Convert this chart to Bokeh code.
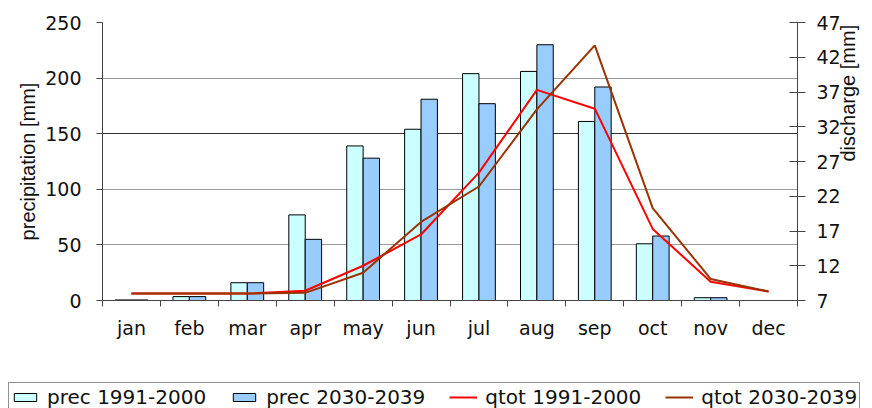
import math
import numpy as np
from bokeh.plotting import figure
from bokeh.layouts import column, row
from bokeh.models import (Range1d, LinearAxis, FixedTicker, Legend, LegendItem, Grid)
from bokeh.embed import file_html
from bokeh.resources import INLINE

months = ["jan", "feb", "mar", "apr", "may", "jun", "jul", "aug", "sep", "oct", "nov", "dec"]
prec_1991_2000 = [0.5, 3.5, 16, 77, 139, 154, 204, 206, 161, 51, 2.5, 0]
prec_2030_2039 = [0.5, 3.5, 16, 55, 128, 181, 177, 230, 192, 58, 2.5, 0]
qtot_1991_2000 = [8.0, 8.0, 8.0, 8.4, 12.0, 16.5, 25.4, 37.3, 34.6, 17.3, 9.7, 8.3]
qtot_2030_2039 = [8.0, 8.0, 8.0, 8.1, 11.0, 18.3, 23.4, 34.5, 43.7, 20.3, 10.1, 8.3]
left_ticks = [0, 50, 100, 150, 200, 250]
right_ticks = [7, 12, 17, 22, 27, 32, 37, 42, 47]
series_labels = ["prec 1991-2000", "prec 2030-2039", "qtot 1991-2000", "qtot 2030-2039"]

idx = np.arange(len(months))
centers = idx + 0.5
bw = 0.283

FONT = "DejaVu Sans"
AX = "#444444"
C_P1, C_P2, C_Q1, C_Q2 = "#CCFFFF", "#99CCFF", "#FF0000", "#993300"

p = figure(width=872, height=374, output_backend="svg", toolbar_location=None,
           x_range=Range1d(0, 12), y_range=Range1d(0, 250),
           min_border_left=102, min_border_right=70, min_border_top=22, min_border_bottom=74)
p.outline_line_color = None
p.background_fill_color = "white"
p.border_fill_color = "white"
p.extra_y_ranges = {"q": Range1d(7, 47)}

# grids
p.xgrid.visible = False
p.ygrid.ticker = FixedTicker(ticks=[t for t in left_ticks if t != 150])
p.ygrid.grid_line_color = "#9a9a9a"
p.ygrid.grid_line_width = 1
g2 = Grid(dimension=1, ticker=FixedTicker(ticks=[150]), grid_line_color="#303030", grid_line_width=1)
p.add_layout(g2, "center")


def draw(fig, yname):
    a = fig.vbar(x=centers - bw / 2, top=prec_1991_2000, width=bw, bottom=0,
                 fill_color=C_P1, line_color="black", line_width=1)
    b = fig.vbar(x=centers + bw / 2, top=prec_2030_2039, width=bw, bottom=0,
                 fill_color=C_P2, line_color="black", line_width=1)
    c = fig.line(x=centers, y=qtot_1991_2000, y_range_name=yname, line_color=C_Q1, line_width=2)
    d = fig.line(x=centers, y=qtot_2030_2039, y_range_name=yname, line_color=C_Q2, line_width=2)
    return [a, b, c, d]


draw(p, "q")

# x axis
xa = p.xaxis[0]
xa.ticker = FixedTicker(ticks=list(centers), minor_ticks=list(range(0, 13)))
xa.major_label_overrides = {float(c): m for c, m in zip(centers, months)}
xa.major_tick_out = 0
xa.major_tick_in = 0
xa.minor_tick_out = 6
xa.minor_tick_in = 0
xa.minor_tick_line_color = AX
xa.axis_line_color = AX
xa.major_label_text_font = FONT
xa.major_label_text_font_size = "19px"
xa.major_label_text_color = "#111111"
xa.major_label_standoff = 10

# left axis
ya = p.yaxis[0]
ya.ticker = FixedTicker(ticks=left_ticks)
ya.major_tick_out = 6
ya.major_tick_in = 0
ya.minor_tick_out = 0
ya.minor_tick_in = 0
ya.axis_line_color = AX
ya.major_tick_line_color = AX
ya.major_label_text_font = FONT
ya.major_label_text_font_size = "19px"
ya.major_label_text_color = "#111111"
ya.major_label_standoff = 15
ya.axis_label = "precipitation [mm]"
ya.axis_label_text_font = "Liberation Sans"
ya.axis_label_text_font_size = "20px"
ya.axis_label_text_font_style = "normal"
ya.axis_label_text_color = "#111111"
ya.axis_label_standoff = 3

# right axis
ra = LinearAxis(y_range_name="q", ticker=FixedTicker(ticks=right_ticks))
ra.major_tick_out = 8
ra.major_tick_in = 8
ra.minor_tick_out = 0
ra.minor_tick_in = 0
ra.axis_line_color = AX
ra.major_tick_line_color = AX
ra.major_label_text_font = FONT
ra.major_label_text_font_size = "19px"
ra.major_label_text_color = "#111111"
ra.major_label_standoff = 11
ra.axis_label = "discharge [mm]"
ra.axis_label_text_font = "Liberation Sans"
ra.axis_label_text_font_size = "20px"
ra.axis_label_text_font_style = "normal"
ra.axis_label_text_color = "#111111"
ra.axis_label_standoff = 4
ra.axis_label_orientation = math.pi / 2
p.add_layout(ra, "right")

# legend strip (its own renderers sit outside its visible ranges; only the legend shows)
q = figure(width=872, height=34, output_backend="svg", toolbar_location=None,
           x_range=Range1d(-100, -99), y_range=Range1d(-100, -99),
           min_border_left=0, min_border_right=0, min_border_top=0, min_border_bottom=0,
           x_axis_location=None, y_axis_location=None)
q.extra_y_ranges = {"q": Range1d(-100, -99)}
q.outline_line_color = None
q.xgrid.visible = False
q.ygrid.visible = False
q.background_fill_color = "white"
q.border_fill_color = "white"
lr = draw(q, "q")

legend = Legend(items=[LegendItem(label=lab, renderers=[r]) for lab, r in zip(series_labels, lr)],
                location="top_left", orientation="horizontal")
legend.border_line_color = "#222222"
legend.border_line_width = 1
legend.background_fill_color = "white"
legend.background_fill_alpha = 1
legend.padding = 2
legend.spacing = 24
legend.label_standoff = 8
legend.glyph_width = 28
legend.glyph_height = 10
legend.label_height = 20
legend.label_text_font = FONT
legend.label_text_font_size = "20px"
legend.label_text_color = "#111111"
legend.margin = 8
q.add_layout(legend, "center")

open("out.html", "w").write(file_html(column(p, row(q)), INLINE))
